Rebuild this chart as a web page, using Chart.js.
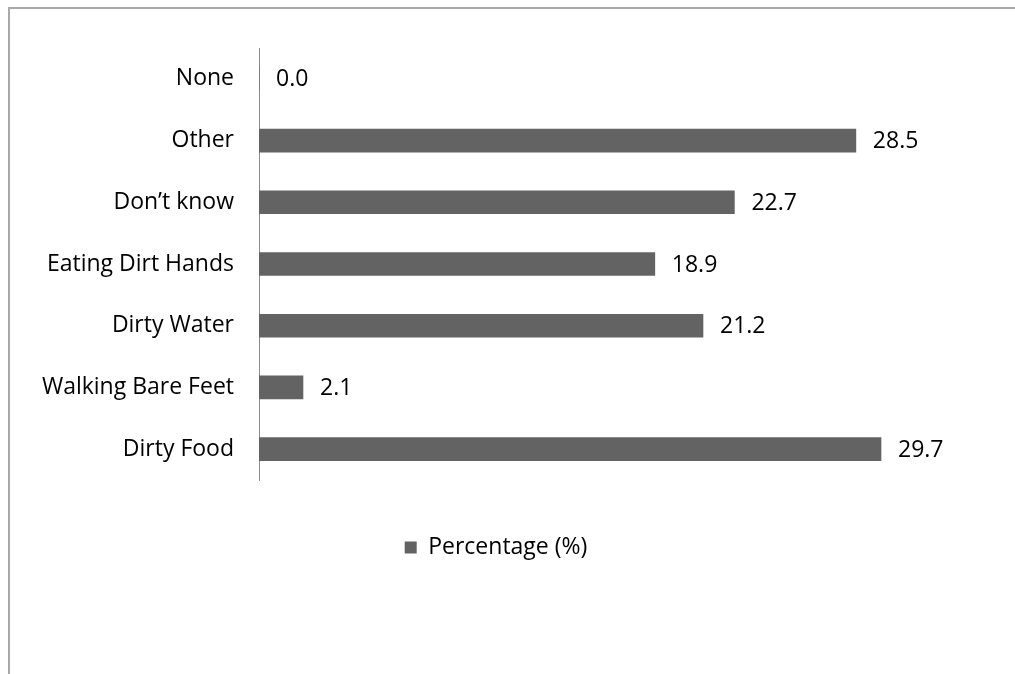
<!DOCTYPE html>
<html>
<head>
<meta charset="utf-8">
<script src="https://cdn.jsdelivr.net/npm/chart.js@4.4.1/dist/chart.umd.min.js"></script>
<style>
  html, body { margin: 0; padding: 0; background: #ffffff; }
  #wrap { width: 1015px; height: 674px; position: relative; }
</style>
</head>
<body>
<div id="wrap"><canvas id="chart" width="1015" height="674"></canvas></div>
<script>
// Perceived causes, listed top to bottom
const categories = ["None", "Other", "Don\u2019t know", "Eating Dirt Hands", "Dirty Water", "Walking Bare Feet", "Dirty Food"];
const percentages = [0.0, 28.5, 22.7, 18.9, 21.2, 2.1, 29.7];
const seriesLabel = "Percentage (%)";

const FONT = "'Open Sans', sans-serif";
const FONT_SIZE = 23;
const BAR_COLOR = "#636363";

// Thin frame along the top and left edges of the canvas
const framePlugin = {
  id: "frame",
  beforeDraw(chart) {
    const ctx = chart.ctx;
    ctx.save();
    ctx.fillStyle = "#ffffff";
    ctx.fillRect(0, 0, chart.width, chart.height);
    ctx.strokeStyle = "#a9a9a9";
    ctx.lineWidth = 2;
    ctx.beginPath();
    ctx.moveTo(9, chart.height);
    ctx.lineTo(9, 8);
    ctx.lineTo(chart.width, 8);
    ctx.stroke();
    ctx.restore();
  }
};

// Value printed just right of each bar end
const valueLabels = {
  id: "valueLabels",
  afterDatasetsDraw(chart) {
    const ctx = chart.ctx;
    const meta = chart.getDatasetMeta(0);
    ctx.save();
    ctx.font = FONT_SIZE + "px " + FONT;
    ctx.fillStyle = "#000000";
    ctx.textAlign = "left";
    ctx.textBaseline = "middle";
    meta.data.forEach((bar, i) => {
      ctx.fillText(percentages[i].toFixed(1), bar.x + 17, bar.y + 1);
    });
    ctx.restore();
  }
};

new Chart(document.getElementById("chart"), {
  type: "bar",
  data: {
    labels: categories,
    datasets: [{
      label: seriesLabel,
      data: percentages,
      backgroundColor: BAR_COLOR,
      borderWidth: 0,
      barThickness: 23
    }]
  },
  options: {
    indexAxis: "y",
    responsive: false,
    animation: false,
    layout: { padding: { top: 48, right: 23, bottom: 105, left: 0 } },
    scales: {
      x: {
        min: 0,
        max: 35,
        display: true,
        grid: { display: false },
        border: { display: false },
        ticks: { display: false },
        afterFit(scale) { scale.height = 46; }
      },
      y: {
        grid: { display: false, drawTicks: false },
        border: { display: true, color: "#8c8c8c", width: 1 },
        ticks: {
          color: "#000000",
          font: { family: FONT, size: FONT_SIZE },
          padding: 25
        },
        afterFit(scale) { scale.width = 259; }
      }
    },
    plugins: {
      legend: {
        display: true,
        position: "bottom",
        labels: {
          color: "#000000",
          font: { family: FONT, size: FONT_SIZE },
          boxWidth: 12,
          boxHeight: 12,
          padding: 10
        }
      },
      tooltip: { enabled: false }
    }
  },
  plugins: [framePlugin, valueLabels]
});
</script>
</body>
</html>
